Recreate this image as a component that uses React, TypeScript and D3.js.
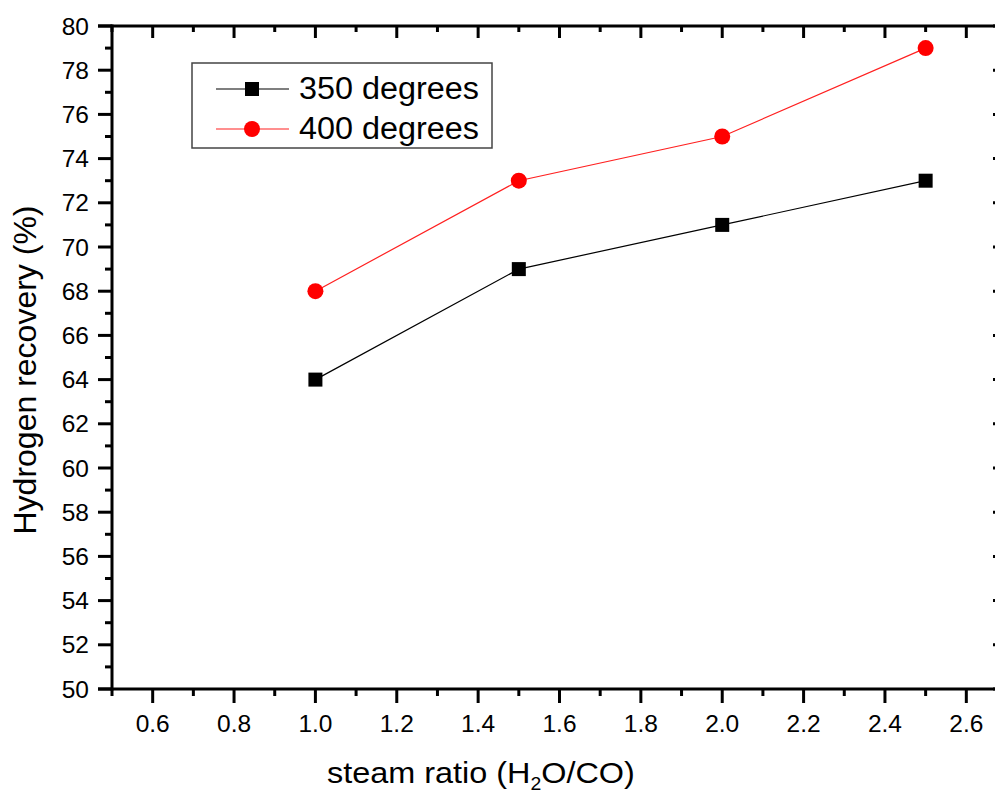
import React from "react";
import * as d3 from "d3";

const steamRatio = [1.0, 1.5, 2.0, 2.5];
const recovery350 = [64, 69, 71, 73];
const recovery400 = [68, 73, 75, 79];
const xMajorTicks = [0.6, 0.8, 1.0, 1.2, 1.4, 1.6, 1.8, 2.0, 2.2, 2.4, 2.6];
const xMinorTicks = [0.5, 0.7, 0.9, 1.1, 1.3, 1.5, 1.7, 1.9, 2.1, 2.3, 2.5, 2.7];
const yMajorTicks = [50, 52, 54, 56, 58, 60, 62, 64, 66, 68, 70, 72, 74, 76, 78, 80];
const yMinorTicks = [51, 53, 55, 57, 59, 61, 63, 65, 67, 69, 71, 73, 75, 77, 79];
const seriesNames = ["350 degrees", "400 degrees"];

const W = 995;
const H = 793;
const L = 112, R = 1007, T = 26, B = 689;

export default function App() {
  const x = d3.scaleLinear().domain([0.5, 2.7]).range([L, R]);
  const y = d3.scaleLinear().domain([50, 80]).range([B, T]);
  const line = d3
    .line<number>()
    .x((_, i) => x(steamRatio[i]))
    .y((d) => y(d));
  const font = "Arial, 'Liberation Sans', sans-serif";
  const sw = 3;
  const maj = 14, mnr = 7;

  return (
    <svg
      width={W}
      height={H}
      style={{ position: "absolute", left: 0, top: 0, background: "#fff" }}
      fontFamily={font}
    >
      <rect x={0} y={0} width={W} height={H} fill="#fff" />
      {/* series lines */}
      <path d={line(recovery350) || ""} fill="none" stroke="#000" strokeWidth={1.2} />
      <path d={line(recovery400) || ""} fill="none" stroke="#ff2020" strokeWidth={1.2} />
      {recovery350.map((v, i) => (
        <rect key={"s" + i} x={x(steamRatio[i]) - 7} y={y(v) - 7} width={14} height={14} fill="#000" />
      ))}
      {recovery400.map((v, i) => (
        <circle key={"c" + i} cx={x(steamRatio[i])} cy={y(v)} r={8} fill="#ff0000" />
      ))}

      {/* axes frame */}
      <g stroke="#000" strokeWidth={sw} strokeLinecap="butt">
        <line x1={L} x2={L} y1={T - sw / 2} y2={B + sw / 2} />
        <line x1={L - maj} x2={R + sw / 2} y1={B} y2={B} />
        <line x1={L - maj} x2={R + sw / 2} y1={T} y2={T} />
        <line x1={R} x2={R} y1={T - sw / 2} y2={B + sw / 2} />
        {xMajorTicks.map((t) => (
          <line key={"bx" + t} x1={x(t)} x2={x(t)} y1={B} y2={B + maj} />
        ))}
        {xMinorTicks.map((t) => (
          <line key={"bm" + t} x1={x(t)} x2={x(t)} y1={B} y2={B + mnr} />
        ))}
        {xMajorTicks.map((t) => (
          <line key={"tx" + t} x1={x(t)} x2={x(t)} y1={T} y2={T + 12} />
        ))}
        {xMinorTicks.map((t) => (
          <line key={"tm" + t} x1={x(t)} x2={x(t)} y1={T} y2={T + 6} />
        ))}
        {yMajorTicks.map((t) => (
          <line key={"ly" + t} x1={L - maj} x2={L} y1={y(t)} y2={y(t)} />
        ))}
        {yMinorTicks.map((t) => (
          <line key={"lm" + t} x1={L - mnr} x2={L} y1={y(t)} y2={y(t)} />
        ))}
        {yMajorTicks.map((t) => (
          <line key={"ry" + t} x1={R - maj} x2={R} y1={y(t)} y2={y(t)} />
        ))}
        {yMinorTicks.map((t) => (
          <line key={"rm" + t} x1={R - mnr} x2={R} y1={y(t)} y2={y(t)} />
        ))}
      </g>

      {/* tick labels */}
      <g fontSize={24.5} fill="#000">
        {yMajorTicks.map((t) => (
          <text key={"yl" + t} x={89} y={y(t)} dy="0.35em" textAnchor="end">
            {t}
          </text>
        ))}
        {xMajorTicks.map((t) => (
          <text key={"xl" + t} x={x(t)} y={731.5} textAnchor="middle">
            {t.toFixed(1)}
          </text>
        ))}
      </g>

      {/* axis titles */}
      <text transform="translate(327,783) scale(1.08,1)" fontSize={30} fill="#000">
        steam ratio (H
        <tspan fontSize={18} dy={7}>2</tspan>
        <tspan dy={-7}>O/CO)</tspan>
      </text>
      <text
        transform={`translate(36,${370}) rotate(-90)`}
        textAnchor="middle"
        fontSize={32}
        fill="#000"
      >
        Hydrogen recovery (%)
      </text>

      {/* legend */}
      <rect x={192} y={63} width={300} height={85} fill="#fff" stroke="#444" strokeWidth={1.5} />
      <line x1={216} x2={289} y1={89} y2={89} stroke="#000" strokeWidth={1.2} />
      <rect x={252 - 7} y={89 - 7} width={14} height={14} fill="#000" />
      <line x1={216} x2={289} y1={129} y2={129} stroke="#ff2020" strokeWidth={1.2} />
      <circle cx={252} cy={129} r={8} fill="#ff0000" />
      <text x={299} y={98.5} fontSize={31} textLength={180} lengthAdjust="spacingAndGlyphs" fill="#000">{seriesNames[0]}</text>
      <text x={299} y={138.5} fontSize={31} textLength={180} lengthAdjust="spacingAndGlyphs" fill="#000">{seriesNames[1]}</text>
    </svg>
  );
}
